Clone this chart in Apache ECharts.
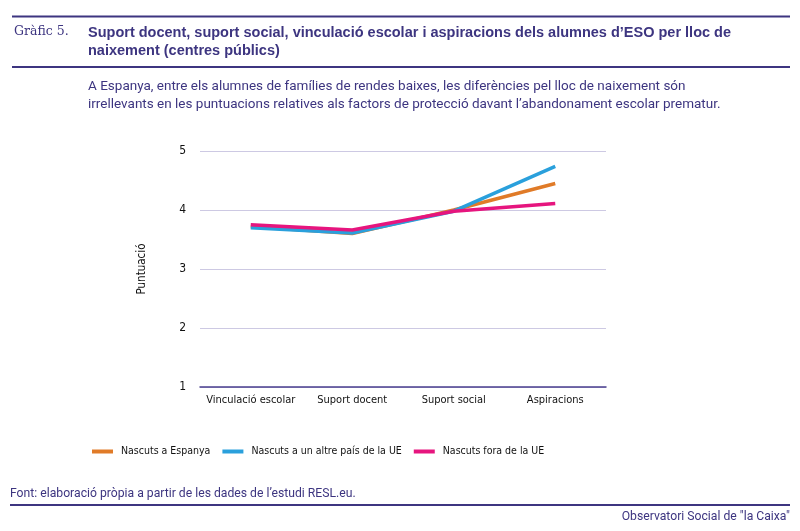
<!DOCTYPE html>
<html><head><meta charset="utf-8">
<script src="https://cdn.jsdelivr.net/npm/echarts@6/dist/echarts.min.js"></script>
<style>html,body{margin:0;padding:0;background:#fff}#c{width:800px;height:531px}</style>
</head><body><div id="c"></div>
<script>
const categories = ['Vinculació escolar', 'Suport docent', 'Suport social', 'Aspiracions'];
const seriesNames = ['Nascuts a Espanya', 'Nascuts a un altre país de la UE', 'Nascuts fora de la UE'];
const espanya = [3.72, 3.60, 4.00, 4.45];
const altreUE = [3.70, 3.61, 3.98, 4.74];
const foraUE = [3.75, 3.66, 3.98, 4.11];
const yTicks = [1, 2, 3, 4, 5];
const colors = ['#e07b28', '#2aa0dc', '#e6157e'];
const purple = '#3d3580';

function hasFont(name) {
  const c = document.createElement('canvas').getContext('2d');
  const s = 'Nascuts a un altre país de la UE mmmwwwiii';
  for (const base of ['monospace', 'serif']) {
    c.font = '20px ' + base; const w0 = c.measureText(s).width;
    c.font = '20px "' + name + '", ' + base; const w1 = c.measureText(s).width;
    if (w0 !== w1) return true;
  }
  return false;
}
let narrowName = 'Roboto';
for (const f of ['Liberation Sans Narrow', 'DejaVu Sans Condensed', 'Roboto Condensed']) {
  if (hasFont(f)) { narrowName = f; break; }
}
const narrow = '"' + narrowName + '", Roboto, sans-serif';
const axisSize = 11;
const legendSize = 10.5;

const chart = echarts.init(document.getElementById('c'));
chart.setOption({
  animation: false,
  title: [
    {text: 'Gràfic 5.', left: 14, top: 25, padding: 0, textStyle: {fontFamily: '"DejaVu Serif", "Liberation Serif", serif', fontWeight: 'normal', fontSize: 12.5, color: purple}},
    {text: 'Suport docent, suport social, vinculació escolar i aspiracions dels alumnes d\u2019ESO per lloc de\nnaixement (centres públics)', left: 88, top: 24, padding: 0,
      textStyle: {fontFamily: '"Liberation Sans", Arial, sans-serif', fontWeight: 'bold', fontSize: 14.5, lineHeight: 18, color: purple}},
    {text: 'A Espanya, entre els alumnes de famílies de rendes baixes, les diferències pel lloc de naixement són\nirrellevants en les puntuacions relatives als factors de protecció davant l\u2019abandonament escolar prematur.', left: 88, top: 78, padding: 0,
      textStyle: {fontFamily: 'Roboto, sans-serif', fontWeight: 'normal', fontSize: 13.5, lineHeight: 17.5, color: purple}},
    {text: 'Font: elaboració pròpia a partir de les dades de l\u2019estudi RESL.eu.', left: 10, top: 488, padding: 0,
      textStyle: {fontFamily: 'Roboto, sans-serif', fontWeight: 'normal', fontSize: 12.2, color: purple}},
    {text: 'Observatori Social de "la Caixa"', right: 10, top: 511, padding: 0,
      textStyle: {fontFamily: 'Roboto, sans-serif', fontWeight: 'normal', fontSize: 12.2, color: purple}}
  ],
  graphic: [
    {type: 'line', shape: {x1: 12, y1: 16.5, x2: 790, y2: 16.5}, style: {stroke: purple, lineWidth: 2}},
    {type: 'line', shape: {x1: 12, y1: 67, x2: 790, y2: 67}, style: {stroke: purple, lineWidth: 2}},
    {type: 'line', shape: {x1: 10, y1: 505, x2: 790, y2: 505}, style: {stroke: purple, lineWidth: 2}}
  ],
  legend: {
    data: seriesNames, left: 92, top: 446, itemWidth: 21, itemHeight: 4, itemGap: 12,
    icon: 'rect', padding: 0,
    textStyle: {fontFamily: narrow, fontSize: legendSize, color: '#111', padding: [0, 0, 0, 3]}
  },
  grid: {left: 200, right: 194, top: 151, bottom: 144, containLabel: false},
  xAxis: {
    type: 'category', data: categories, boundaryGap: true,
    axisLine: {lineStyle: {color: '#4a3f8f', width: 1.5}},
    axisTick: {show: false},
    axisLabel: {interval: 0, fontFamily: narrow, fontSize: axisSize, color: '#111', margin: 8}
  },
  yAxis: {
    type: 'value', min: yTicks[0], max: yTicks[yTicks.length - 1], interval: 1,
    name: 'Puntuació', nameLocation: 'middle', nameGap: 52, nameRotate: 90,
    nameTextStyle: {fontFamily: narrow, fontSize: 11.5, color: '#111'},
    axisLine: {show: false}, axisTick: {show: false},
    axisLabel: {fontFamily: narrow, fontSize: 12, color: '#111', margin: 14},
    splitLine: {lineStyle: {color: '#cdc9e3', width: 1}}
  },
  series: [espanya, altreUE, foraUE].map((d, i) => ({
    name: seriesNames[i], type: 'line', data: d, symbol: 'none',
    lineStyle: {width: 3.5, color: colors[i]}, itemStyle: {color: colors[i]}
  }))
});
</script></body></html>
